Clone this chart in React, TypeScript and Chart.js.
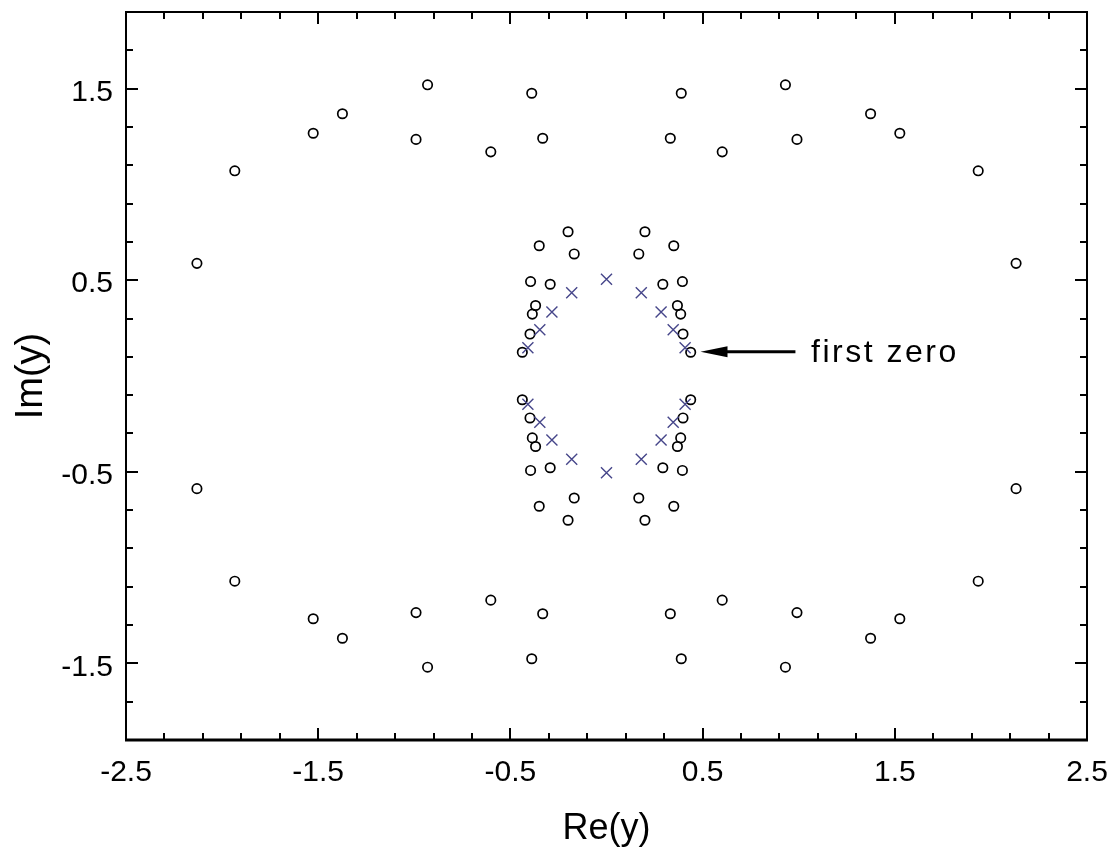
import React, { useEffect, useRef } from 'react';
import { Chart, registerables } from 'chart.js';

Chart.register(...registerables);

const FONT = "'Liberation Sans', Arial, Helvetica, sans-serif";

// Poles (open circles): real parts and imaginary parts
const poleRe = [
  // outer ring, upper right
  1.934, 1.526, 1.374, 0.931, 0.991, 0.602, 0.389, 0.332, 2.131,
  // outer ring, upper left
  -1.934, -1.526, -1.374, -0.931, -0.991, -0.602, -0.389, -0.332, -2.131,
  // outer ring, lower left
  -1.934, -1.526, -1.374, -0.931, -0.991, -0.602, -0.389, -0.332, -2.131,
  // outer ring, lower right
  1.934, 1.526, 1.374, 0.931, 0.991, 0.602, 0.389, 0.332, 2.131,
  // inner ring, upper right
  0.200, 0.350, 0.168, 0.395, 0.293, 0.369, 0.386, 0.398, 0.438,
  // inner ring, upper left
  -0.200, -0.350, -0.168, -0.395, -0.293, -0.369, -0.386, -0.398, -0.438,
  // inner ring, lower left
  -0.200, -0.350, -0.168, -0.395, -0.293, -0.369, -0.386, -0.398, -0.438,
  // inner ring, lower right
  0.200, 0.350, 0.168, 0.395, 0.293, 0.369, 0.386, 0.398, 0.438,
];
const poleIm = [
  1.071, 1.267, 1.369, 1.520, 1.235, 1.170, 1.476, 1.241, 0.588,
  1.071, 1.267, 1.369, 1.520, 1.235, 1.170, 1.476, 1.241, 0.588,
  -1.071, -1.267, -1.369, -1.520, -1.235, -1.170, -1.476, -1.241, -0.588,
  -1.071, -1.267, -1.369, -1.520, -1.235, -1.170, -1.476, -1.241, -0.588,
  0.753, 0.680, 0.637, 0.493, 0.479, 0.368, 0.323, 0.219, 0.124,
  0.753, 0.680, 0.637, 0.493, 0.479, 0.368, 0.323, 0.219, 0.124,
  -0.753, -0.680, -0.637, -0.493, -0.479, -0.368, -0.323, -0.219, -0.124,
  -0.753, -0.680, -0.637, -0.493, -0.479, -0.368, -0.323, -0.219, -0.124,
];

// Zeros (crosses)
const zeroRe = [
  0, 0.181, -0.181, 0.284, -0.284, 0.347, -0.347, 0.409, -0.409,
  0, 0.181, -0.181, 0.284, -0.284, 0.347, -0.347, 0.409, -0.409,
];
const zeroIm = [
  0.505, 0.435, 0.435, 0.334, 0.334, 0.241, 0.241, 0.148, 0.148,
  -0.505, -0.435, -0.435, -0.334, -0.334, -0.241, -0.241, -0.148, -0.148,
];

const xTickLabels = [-2.5, -1.5, -0.5, 0.5, 1.5, 2.5];
const yTickLabels = [-1.5, -0.5, 0.5, 1.5];
const xAxisTitle = 'Re(y)';
const yAxisTitle = 'Im(y)';
const noteText = 'first zero';
const noteArrowTip = { x: 0.489, y: 0.127 };
const noteArrowTail = { x: 0.983, y: 0.127 };
const noteTextAt = { x: 1.064, y: 0.118 };

const X_MIN = -2.5;
const X_MAX = 2.5;
const Y_MIN = -1.9;
const Y_MAX = 1.9;

const axesFrame = {
  id: 'axesFrame',
  afterDraw(chart: any) {
    const { ctx, chartArea: a, scales } = chart;
    const xs = scales.x;
    const ys = scales.y;
    ctx.save();
    ctx.strokeStyle = '#000';
    ctx.fillStyle = '#000';
    ctx.lineCap = 'butt';
    ctx.lineWidth = 2;
    // x ticks (every 0.2, majors at labels), inward on bottom and top
    for (let k = 0; k <= 25; k++) {
      const v = X_MIN + 0.2 * k;
      const major = xTickLabels.some((t) => Math.abs(t - v) < 1e-6);
      const len = major ? 12 : 7;
      const px = Math.round(xs.getPixelForValue(v));
      ctx.beginPath();
      ctx.moveTo(px, a.bottom);
      ctx.lineTo(px, a.bottom - len);
      ctx.moveTo(px, a.top);
      ctx.lineTo(px, a.top + len);
      ctx.stroke();
    }
    // y ticks
    for (let k = 0; k <= 19; k++) {
      const v = Y_MIN + 0.2 * k;
      const major = yTickLabels.some((t) => Math.abs(t - v) < 1e-6);
      const len = major ? 12 : 7;
      const py = Math.round(ys.getPixelForValue(v));
      ctx.beginPath();
      ctx.moveTo(a.left, py);
      ctx.lineTo(a.left + len, py);
      ctx.moveTo(a.right, py);
      ctx.lineTo(a.right - len, py);
      ctx.stroke();
    }
    // frame
    ctx.lineWidth = 2;
    ctx.strokeRect(a.left, a.top, a.right - a.left, a.bottom - a.top);
    ctx.lineWidth = 3;
    ctx.beginPath();
    ctx.moveTo(a.left - 1, a.bottom);
    ctx.lineTo(a.right + 1, a.bottom);
    ctx.stroke();

    // annotation arrow
    const tx = xs.getPixelForValue(noteArrowTip.x);
    const ty = ys.getPixelForValue(noteArrowTip.y);
    const ex = xs.getPixelForValue(noteArrowTail.x);
    const headLen = 27;
    const headHalf = 5.5;
    ctx.lineWidth = 3;
    ctx.beginPath();
    ctx.moveTo(tx + headLen - 2, ty);
    ctx.lineTo(ex, ty);
    ctx.stroke();
    ctx.beginPath();
    ctx.moveTo(tx, ty);
    ctx.lineTo(tx + headLen, ty - headHalf);
    ctx.lineTo(tx + headLen, ty + headHalf);
    ctx.closePath();
    ctx.fill();

    // annotation text
    ctx.font = `32px ${FONT}`;
    ctx.textAlign = 'left';
    ctx.textBaseline = 'middle';
    try {
      (ctx as any).letterSpacing = '2.5px';
    } catch (e) {
      /* ignore */
    }
    ctx.fillText(noteText, xs.getPixelForValue(noteTextAt.x), ys.getPixelForValue(noteTextAt.y));
    try {
      (ctx as any).letterSpacing = '0px';
    } catch (e) {
      /* ignore */
    }
    ctx.restore();
  },
};

export default function App() {
  const ref = useRef<HTMLCanvasElement>(null);

  useEffect(() => {
    if (!ref.current) return;
    const poles = poleRe.map((x, i) => ({ x, y: poleIm[i] }));
    const zeros = zeroRe.map((x, i) => ({ x, y: zeroIm[i] }));
    const chart = new Chart(ref.current, {
      type: 'scatter',
      data: {
        datasets: [
          {
            label: 'zeros',
            data: zeros,
            pointStyle: 'crossRot',
            pointRadius: 7.8,
            borderColor: '#46468a',
            backgroundColor: '#46468a',
            borderWidth: 1.4,
            order: 0,
          },
          {
            label: 'poles',
            data: poles,
            pointStyle: 'circle',
            pointRadius: 4.7,
            borderColor: '#000000',
            backgroundColor: 'rgba(255,255,255,0)',
            borderWidth: 1.7,
            order: 1,
          },
        ],
      },
      options: {
        responsive: false,
        animation: false,
        events: [],
        layout: { padding: { left: 0, top: 12, right: 25, bottom: 0 } },
        plugins: {
          legend: { display: false },
          tooltip: { enabled: false },
        },
        scales: {
          x: {
            type: 'linear',
            min: X_MIN,
            max: X_MAX,
            afterBuildTicks: (s: any) => {
              s.ticks = xTickLabels.map((v) => ({ value: v }));
            },
            afterFit: (s: any) => {
              s.height = 107;
              s.paddingLeft = 0;
              s.paddingRight = 0;
            },
            grid: { display: false, drawTicks: false },
            border: { display: false },
            ticks: {
              autoSkip: false,
              maxRotation: 0,
              minRotation: 0,
              padding: 15,
              color: '#000',
              font: { family: FONT, size: 30 },
              callback: (v: any) => String(v),
            },
            title: {
              display: true,
              text: xAxisTitle,
              color: '#000',
              font: { family: FONT, size: 36, lineHeight: 1 },
              padding: { top: 0, bottom: 0 },
            },
          },
          y: {
            type: 'linear',
            min: Y_MIN,
            max: Y_MAX,
            afterBuildTicks: (s: any) => {
              s.ticks = yTickLabels.map((v) => ({ value: v }));
            },
            afterFit: (s: any) => {
              s.width = 126;
              s.paddingTop = 0;
              s.paddingBottom = 0;
            },
            grid: { display: false, drawTicks: false },
            border: { display: false },
            ticks: {
              autoSkip: false,
              padding: 13,
              labelOffset: 4,
              color: '#000',
              font: { family: FONT, size: 30 },
              callback: (v: any) => String(v),
            },
            title: {
              display: true,
              text: yAxisTitle,
              color: '#000',
              font: { family: FONT, size: 38, lineHeight: 1 },
              padding: { top: 13, bottom: 0 },
            },
          },
        },
      },
      plugins: [axesFrame],
    } as any);
    return () => chart.destroy();
  }, []);

  return (
    <div
      style={{
        position: 'absolute',
        left: 0,
        top: 0,
        width: 1112,
        height: 847,
        background: '#ffffff',
      }}
    >
      <canvas ref={ref} width={1112} height={847} style={{ display: 'block', width: 1112, height: 847 }} />
    </div>
  );
}
